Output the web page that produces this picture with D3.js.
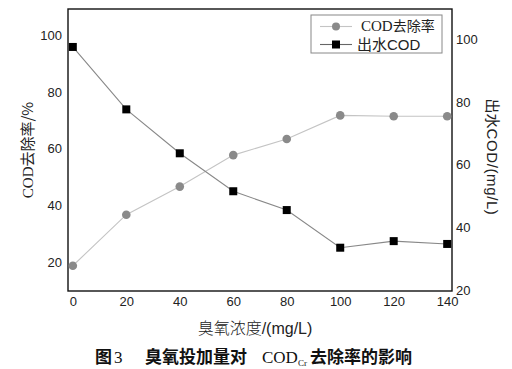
<!DOCTYPE html>
<html><head><meta charset="utf-8">
<script src="https://cdn.jsdelivr.net/npm/d3@7"></script>
<style>
html,body{margin:0;padding:0;background:#fff;}
svg{display:block;}
</style></head>
<body><svg id="c" width="512" height="369"></svg>
<script>
const dose = [0, 20, 40, 60, 80, 100, 120, 140];
const removalRate = [18.7, 36.7, 46.6, 57.7, 63.4, 71.7, 71.4, 71.4];
const effluentCOD = [97.5, 77.6, 63.6, 51.5, 45.5, 33.5, 35.6, 34.7];
const xTicks = [0, 20, 40, 60, 80, 100, 120, 140];
const leftTicks = [20, 40, 60, 80, 100];
const rightTicks = [20, 40, 60, 80, 100];
const seriesNames = ["COD去除率", "出水COD"];

const svg = d3.select("#c");
const L = 68, R = 452, T = 9, B = 291;
const sans = "'Liberation Sans', Arial, sans-serif";
const serif = "'Liberation Serif', 'Times New Roman', serif";
const cjk = "'Noto Sans CJK SC', sans-serif";

const x = d3.scaleLinear().domain([-1.8, 141.8]).range([L, R]);
const yL = d3.scaleLinear().domain([9.8, 109.2]).range([B, T]);
const yR = d3.scaleLinear().domain([19.7, 109.6]).range([B, T]);

// axes
const ax = svg.append("g").attr("transform", `translate(0,${B})`)
  .call(d3.axisBottom(x).tickValues(xTicks).tickSize(0).tickPadding(6));
const ay = svg.append("g").attr("transform", `translate(${L},0)`)
  .call(d3.axisLeft(yL).tickValues(leftTicks).tickSize(0).tickPadding(6));
const ayr = svg.append("g").attr("transform", `translate(${R},0)`)
  .call(d3.axisRight(yR).tickValues(rightTicks).tickSize(0).tickPadding(4));
[ax, ay, ayr].forEach(g => {
  g.select(".domain").remove();
  g.selectAll("text").attr("font-family", sans).attr("font-size", 13).attr("fill", "#222");
});

// frame
svg.append("rect").attr("x", L).attr("y", T).attr("width", R - L).attr("height", B - T)
  .attr("fill", "none").attr("stroke", "#111").attr("stroke-width", 1.4);

// series 1: removal rate
const line1 = d3.line().x((d, i) => x(dose[i])).y(d => yL(d));
svg.append("path").datum(removalRate).attr("d", line1)
  .attr("fill", "none").attr("stroke", "#c4c4c4").attr("stroke-width", 1.1);
svg.selectAll(".c1").data(removalRate).enter().append("circle")
  .attr("cx", (d, i) => x(dose[i])).attr("cy", d => yL(d)).attr("r", 4.3)
  .attr("fill", "#8a8a8a");

// series 2: effluent COD
const line2 = d3.line().x((d, i) => x(dose[i])).y(d => yR(d));
svg.append("path").datum(effluentCOD).attr("d", line2)
  .attr("fill", "none").attr("stroke", "#888").attr("stroke-width", 1.1);
const sq = 8;
svg.selectAll(".s2").data(effluentCOD).enter().append("rect")
  .attr("x", (d, i) => x(dose[i]) - sq / 2).attr("y", d => yR(d) - sq / 2)
  .attr("width", sq).attr("height", sq).attr("fill", "#000");

// legend
const lg = svg.append("g");
lg.append("rect").attr("x", 311).attr("y", 15).attr("width", 131).attr("height", 38)
  .attr("fill", "#fff").attr("stroke", "#888").attr("stroke-width", 1);
lg.append("line").attr("x1", 320).attr("x2", 352).attr("y1", 26.5).attr("y2", 26.5)
  .attr("stroke", "#c4c4c4").attr("stroke-width", 1.1);
lg.append("circle").attr("cx", 336).attr("cy", 26.5).attr("r", 4).attr("fill", "#8a8a8a");
lg.append("line").attr("x1", 320).attr("x2", 352).attr("y1", 44.5).attr("y2", 44.5)
  .attr("stroke", "#666").attr("stroke-width", 1.1);
lg.append("rect").attr("x", 336 - 4).attr("y", 44.5 - 4).attr("width", 8).attr("height", 8).attr("fill", "#000");
const t1 = lg.append("text").attr("x", 361).attr("y", 31).attr("font-size", 14).attr("fill", "#222");
t1.append("tspan").attr("font-family", serif).attr("font-size", 15).text(seriesNames[0].slice(0, 3));
t1.append("tspan").attr("font-family", cjk).text(seriesNames[0].slice(3));
const t2 = lg.append("text").attr("x", 357).attr("y", 50).attr("font-size", 14).attr("fill", "#222");
t2.append("tspan").attr("font-family", cjk).attr("font-size", 15).text(seriesNames[1].slice(0, 2));
t2.append("tspan").attr("font-family", sans).attr("font-size", 15).text(seriesNames[1].slice(2));

// axis titles
const lt = svg.append("text").attr("transform", "translate(33,150) rotate(-90)")
  .attr("text-anchor", "middle").attr("font-size", 15).attr("fill", "#222");
lt.append("tspan").attr("font-family", serif).text("COD");
lt.append("tspan").attr("font-family", cjk).text("去除率/%");

const rt = svg.append("text").attr("transform", "translate(487,157) rotate(90)")
  .attr("text-anchor", "middle").attr("font-size", 15).attr("fill", "#222");
rt.append("tspan").attr("font-family", cjk).text("出水");
rt.append("tspan").attr("font-family", sans).attr("letter-spacing", 0.6).text("COD/(mg/L)");

const bt = svg.append("text").attr("x", 255).attr("y", 334)
  .attr("text-anchor", "middle").attr("font-size", 16).attr("fill", "#222");
bt.append("tspan").attr("font-family", cjk).attr("font-weight", 300).text("臭氧浓度");
bt.append("tspan").attr("font-family", sans).text("/(mg/L)");

// caption
const cap = svg.append("text").attr("y", 363).attr("font-size", 17).attr("font-weight", "bold").attr("fill", "#111");
cap.append("tspan").attr("x", 95).attr("font-family", cjk).text("图");
cap.append("tspan").attr("x", 114).attr("font-family", serif).attr("font-weight", "normal").text("3");
cap.append("tspan").attr("x", 145).attr("font-family", cjk).text("臭氧投加量对");
cap.append("tspan").attr("x", 262).attr("font-family", serif).attr("font-weight", "normal").attr("font-size", 17).text("COD");
cap.append("tspan").attr("font-family", serif).attr("font-weight", "normal").attr("font-size", 9).attr("dy", 3).text("Cr");
cap.append("tspan").attr("x", 310).attr("dy", -3).attr("font-family", cjk).text("去除率的影响");
</script></body></html>
